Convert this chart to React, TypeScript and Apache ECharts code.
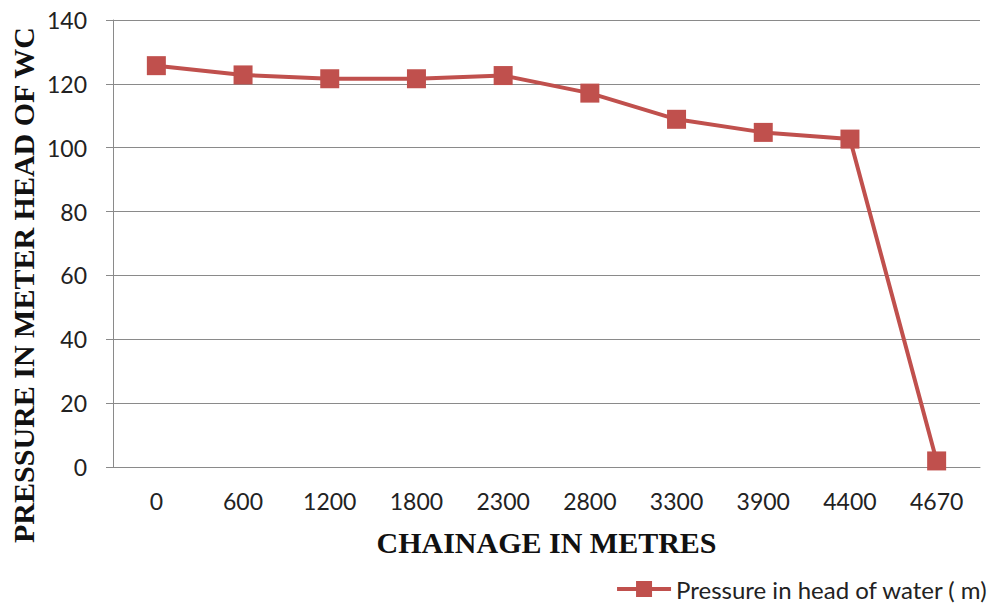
import React, { useEffect, useRef } from "react";
import * as echarts from "echarts";

const chainage = ["0", "600", "1200", "1800", "2300", "2800", "3300", "3900", "4400", "4670"];
const pressure = [125.7, 122.8, 121.6, 121.6, 122.6, 117.1, 108.9, 104.8, 102.7, 1.9];
const yTicks = { min: 0, max: 140, interval: 20 };
const seriesName = "Pressure in head of water ( m)";
const xTitle = "CHAINAGE IN METRES";
const yTitle = "PRESSURE IN METER HEAD OF WC";

const RED = "#C0504D";
const GRID = "#8a8a8a";

export default function App() {
  const ref = useRef<HTMLDivElement>(null);
  useEffect(() => {
    document.body.style.margin = "0";
    const chart = echarts.init(ref.current!, null, { renderer: "svg" });
    chart.setOption({
      animation: false,
      backgroundColor: "#ffffff",
      grid: { left: 113, right: 12, top: 20, bottom: 136 },
      legend: {
        right: 4,
        top: 577,
        padding: 0,
        itemWidth: 54,
        itemHeight: 20,
        itemGap: 5,
        lineStyle: { width: 4, color: RED },
        itemStyle: { color: RED },
        textStyle: { fontFamily: "Lato", fontSize: 24, lineHeight: 24, color: "#222" },
        data: [seriesName],
      },
      xAxis: {
        type: "category",
        data: chainage,
        boundaryGap: true,
        axisLine: { show: true, lineStyle: { color: GRID, width: 1 } },
        axisTick: { show: false },
        axisLabel: {
          interval: 0,
          margin: 22,
          fontFamily: "Lato",
          fontSize: 23,
          color: "#222",
        },
        name: xTitle,
        nameLocation: "middle",
        nameGap: 60,
        nameTextStyle: {
          fontFamily: "Liberation Serif",
          fontWeight: "bold",
          fontSize: 30,
          color: "#111",
        },
      },
      yAxis: {
        type: "value",
        min: yTicks.min,
        max: yTicks.max,
        interval: yTicks.interval,
        axisLine: { show: true, lineStyle: { color: GRID, width: 1 } },
        axisTick: { show: true, length: 7, lineStyle: { color: GRID } },
        splitLine: { show: true, lineStyle: { color: GRID, width: 1 } },
        axisLabel: {
          margin: 26,
          fontFamily: "Lato",
          fontSize: 23,
          color: "#222",
        },
      },
      graphic: [
        {
          type: "text",
          x: 23,
          y: 285,
          rotation: Math.PI / 2,
          style: {
            text: yTitle,
            fontFamily: "Liberation Serif",
            fontWeight: "bold",
            fontSize: 30,
            fill: "#111",
            align: "center",
            verticalAlign: "middle",
          },
        },
      ],
      series: [
        {
          name: seriesName,
          type: "line",
          data: pressure,
          symbol: "rect",
          symbolSize: 19,
          itemStyle: { color: RED },
          lineStyle: { color: RED, width: 4 },
        },
      ],
    });
    return () => chart.dispose();
  }, []);
  return <div ref={ref} style={{ width: 992, height: 603 }} />;
}
